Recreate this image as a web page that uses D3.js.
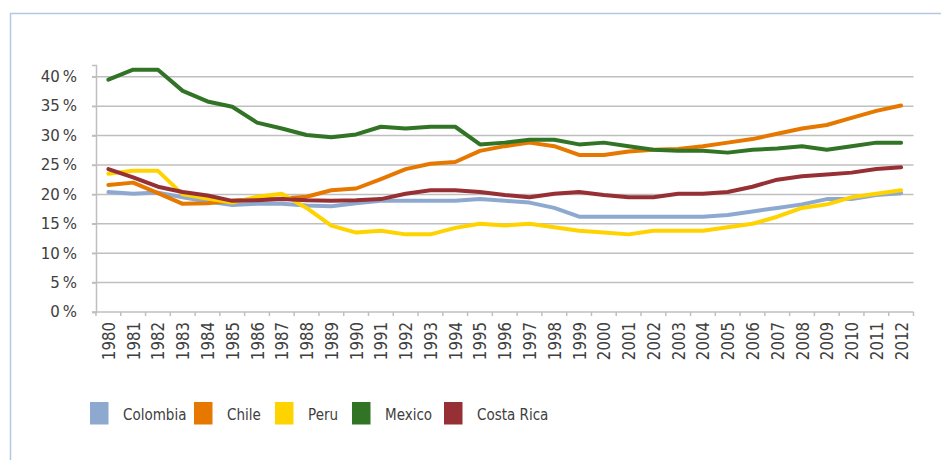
<!DOCTYPE html>
<html>
<head>
<meta charset="utf-8">
<script src="https://cdn.jsdelivr.net/npm/d3@7"></script>
<style>
  html, body { margin: 0; padding: 0; background: #fff; }
  svg { display: block; }
  text { font-family: "DejaVu Sans", Verdana, sans-serif; fill: #404040; }
</style>
</head>
<body>
<svg id="chart" width="941" height="460"></svg>
<script>
// Years on the category axis
const years = d3.range(1980, 2013).map(String);

// Share of income (%) per country, 1980–2012
const colombia = [20.4, 20.1, 20.3, 19.5, 18.8, 18.2, 18.4, 18.4, 18.1, 18.0, 18.5, 18.9, 18.9, 18.9, 18.9, 19.2, 18.9, 18.6, 17.7, 16.2, 16.2, 16.2, 16.2, 16.2, 16.2, 16.5, 17.1, 17.7, 18.3, 19.2, 19.2, 19.9, 20.2];
const chile    = [21.6, 22.0, 20.2, 18.4, 18.5, 18.9, 19.2, 19.3, 19.6, 20.7, 21.0, 22.6, 24.3, 25.2, 25.5, 27.4, 28.2, 28.8, 28.2, 26.7, 26.7, 27.3, 27.6, 27.7, 28.2, 28.8, 29.4, 30.3, 31.2, 31.8, 33.0, 34.2, 35.1];
const peru     = [23.5, 24.0, 24.0, 20.0, 19.3, 18.6, 19.6, 20.1, 17.7, 14.7, 13.5, 13.8, 13.2, 13.2, 14.3, 15.0, 14.7, 15.0, 14.4, 13.8, 13.5, 13.2, 13.8, 13.8, 13.8, 14.4, 15.0, 16.2, 17.7, 18.3, 19.5, 20.1, 20.7];
const mexico   = [39.5, 41.2, 41.2, 37.6, 35.8, 34.9, 32.2, 31.2, 30.1, 29.7, 30.2, 31.5, 31.2, 31.5, 31.5, 28.5, 28.8, 29.3, 29.3, 28.5, 28.8, 28.2, 27.6, 27.4, 27.4, 27.1, 27.6, 27.8, 28.2, 27.6, 28.2, 28.8, 28.8];
const costaRica= [24.3, 22.9, 21.3, 20.4, 19.8, 18.9, 19.0, 19.2, 19.0, 18.9, 19.0, 19.2, 20.1, 20.7, 20.7, 20.4, 19.9, 19.5, 20.1, 20.4, 19.9, 19.5, 19.5, 20.1, 20.1, 20.4, 21.3, 22.5, 23.1, 23.4, 23.7, 24.3, 24.6];

// Y axis ticks
const yTicks = [0, 5, 10, 15, 20, 25, 30, 35, 40];

const series = [
  { name: "Colombia",   values: colombia,  color: "#8EA9D0" },
  { name: "Chile",      values: chile,     color: "#E67800" },
  { name: "Peru",       values: peru,      color: "#FFD300" },
  { name: "Mexico",     values: mexico,    color: "#327425" },
  { name: "Costa Rica", values: costaRica, color: "#963035" }
];

const svg = d3.select("#chart");

// Chart frame (top and left edges)
svg.append("path")
  .attr("d", "M10.5,460 V13.5 H941")
  .attr("fill", "none")
  .attr("stroke", "#B4C7E7")
  .attr("stroke-width", 1.5);

const plot = { left: 96, right: 913.5, top: 65, bottom: 312 };

const x = d3.scaleBand().domain(years).range([plot.left, plot.right]);
const y = d3.scaleLinear().domain([0, 42]).range([plot.bottom, plot.top]);

// Horizontal gridlines
svg.append("g")
  .selectAll("line")
  .data(yTicks.filter(d => d > 0))
  .join("line")
  .attr("x1", plot.left - 4).attr("x2", plot.right)
  .attr("y1", d => y(d)).attr("y2", d => y(d))
  .attr("stroke", "#BFBFBF").attr("stroke-width", 1.5);

// Y axis
const yAxis = svg.append("g")
  .attr("transform", `translate(${plot.left},0)`)
  .call(d3.axisLeft(y).tickValues(yTicks).tickSize(4).tickPadding(15)
    .tickFormat(d => d + "\u2009%"));
yAxis.select(".domain").attr("stroke", "#BFBFBF").attr("stroke-width", 1.5);
yAxis.selectAll(".tick line").attr("stroke", "#BFBFBF").attr("stroke-width", 1.5);
yAxis.selectAll(".tick text").attr("font-size", 15).attr("fill", "#404040")
  .style("font-family", "'DejaVu Sans', Verdana, sans-serif");

// X axis with ticks between categories
const xAxis = svg.append("g")
  .attr("transform", `translate(0,${plot.bottom})`);
xAxis.append("line")
  .attr("x1", plot.left - 4).attr("x2", plot.right)
  .attr("stroke", "#BFBFBF").attr("stroke-width", 1.5);
xAxis.selectAll(".tk")
  .data(years.concat(["end"]))
  .join("line")
  .attr("class", "tk")
  .attr("x1", (d, i) => plot.left + i * x.step())
  .attr("x2", (d, i) => plot.left + i * x.step())
  .attr("y1", 0).attr("y2", 4)
  .attr("stroke", "#BFBFBF").attr("stroke-width", 1.5);
xAxis.selectAll(".lbl")
  .data(years)
  .join("text")
  .attr("class", "lbl")
  .attr("transform", d => `translate(${x(d) + x.bandwidth() / 2 + 6.5},10) rotate(-90) scale(1,1.15)`)
  .attr("text-anchor", "end")
  .attr("font-size", 15)
  .text(d => d);

// Series lines
const line = d3.line()
  .x((d, i) => x(years[i]) + x.bandwidth() / 2)
  .y(d => y(d));

svg.append("g")
  .selectAll("path")
  .data(series)
  .join("path")
  .attr("d", s => line(s.values))
  .attr("fill", "none")
  .attr("stroke", s => s.color)
  .attr("stroke-width", 4)
  .attr("stroke-linejoin", "round")
  .attr("stroke-linecap", "round");

// Legend
const legendX = [90, 194, 275, 352, 444];
const legend = svg.append("g")
  .selectAll("g")
  .data(series)
  .join("g")
  .attr("transform", (d, i) => `translate(${legendX[i]},402)`);
legend.append("rect")
  .attr("width", 18.5).attr("height", 22.5)
  .attr("fill", d => d.color);
legend.append("text")
  .attr("transform", "translate(33,18) scale(1,1.2)")
  .attr("font-size", 13.5)
  .text(d => d.name);
</script>
</body>
</html>
